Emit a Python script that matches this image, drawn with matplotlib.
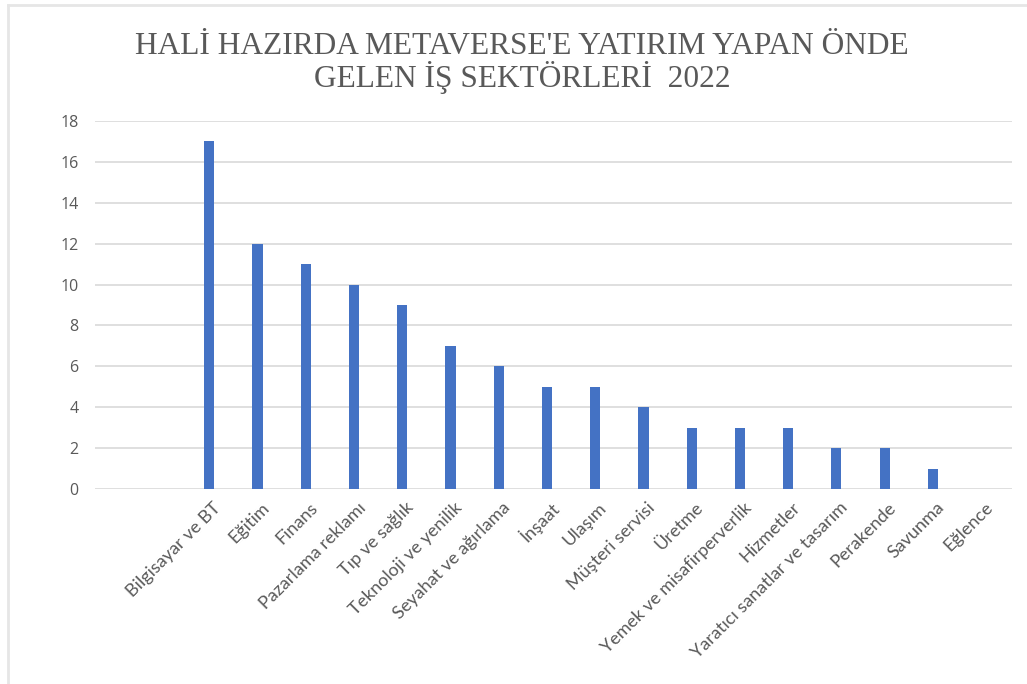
import matplotlib
matplotlib.use("Agg")
import matplotlib.pyplot as plt
from matplotlib.lines import Line2D
from matplotlib.transforms import ScaledTranslation
import numpy as np

categories = ["Bilgisayar ve BT", "Eğitim", "Finans", "Pazarlama reklamı", "Tıp ve sağlık",
              "Teknoloji ve yenilik", "Seyahat ve ağırlama", "İnşaat", "Ulaşım",
              "Müşteri servisi", "Üretme", "Yemek ve misafirperverlik", "Hizmetler",
              "Yaratıcı sanatlar ve tasarım", "Perakende", "Savunma", "Eğlence"]
values = [17, 12, 11, 10, 9, 7, 6, 5, 5, 4, 3, 3, 3, 2, 2, 1, 0]
yticks = [0, 2, 4, 6, 8, 10, 12, 14, 16, 18]
title = "HALİ HAZIRDA METAVERSE'E YATIRIM YAPAN ÖNDE\nGELEN İŞ SEKTÖRLERİ  2022"

fig = plt.figure(figsize=(10.27, 6.84), dpi=100)
ax = fig.add_axes([95/1027, 1-489/684, (1012-95)/1027, (489-121)/684])

x = np.arange(len(categories))
ax.bar(x, values, width=0.21, color="#4472C4", zorder=3)
ax.set_xlim(-2.37, 16.64)
ax.set_ylim(0, 18)
ax.set_yticks(yticks)
ax.yaxis.grid(True, color="#D9D9D9", linewidth=1.2, zorder=0)
for s in ax.spines.values():
    s.set_visible(False)
ax.tick_params(axis="both", length=0, colors="#595959")
ax.tick_params(axis="y", pad=12, labelsize=11.5)
for lab in ax.get_yticklabels():
    lab.set_fontfamily("Open Sans")
ax.set_xticks(x)
ax.set_xticklabels([])

offset = ScaledTranslation(9/100, -16/100, fig.dpi_scale_trans)
for xi, cat in zip(x, categories):
    ax.text(xi, 0, cat, transform=ax.get_xaxis_transform() + offset,
            rotation=45, ha="right", va="center", rotation_mode="anchor",
            fontfamily="Lato", color="#595959", fontsize=13)

fig.text(522/1027, 1-63/684, title, ha="center", va="center", fontfamily="Liberation Serif",
         fontsize=22.6, color="#595959", linespacing=1.0)

fig.add_artist(Line2D([8/1027, 8/1027], [0, 1-5/684], transform=fig.transFigure,
                      color="#E6E6E6", linewidth=2))
fig.add_artist(Line2D([8/1027, 1], [1-5/684, 1-5/684], transform=fig.transFigure,
                      color="#E6E6E6", linewidth=2))

fig.savefig("out.png", dpi=100, facecolor="white")
